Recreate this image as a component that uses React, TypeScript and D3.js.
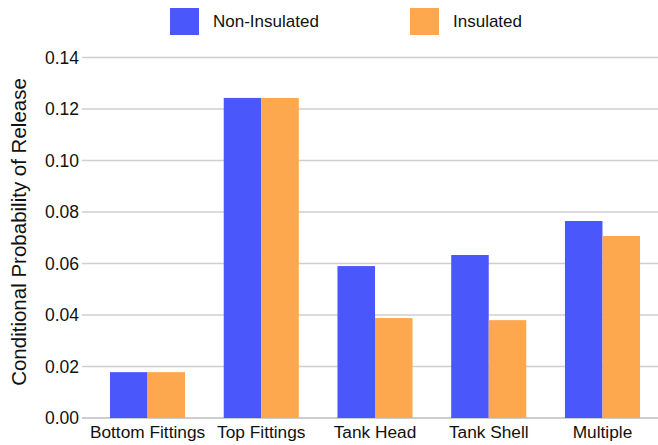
import React from "react";
import * as d3 from "d3";

const categories = ["Bottom Fittings", "Top Fittings", "Tank Head", "Tank Shell", "Multiple"];
const seriesNames = ["Non-Insulated", "Insulated"];
const nonInsulated = [0.0178, 0.1243, 0.059, 0.0633, 0.0765];
const insulated = [0.0178, 0.1243, 0.0388, 0.038, 0.0707];
const yTicks = [0, 0.02, 0.04, 0.06, 0.08, 0.1, 0.12, 0.14];
const colors = ["#4a58fb", "#fda74f"];

export default function App() {
  const W = 658, H = 445;
  const y = d3.scaleLinear().domain([0, 0.14]).range([418, 57.5]);
  const x0 = d3.scaleBand<string>().domain(categories).range([82, 668]).paddingInner(0.34).paddingOuter(0.246);
  const x1 = d3.scaleBand<string>().domain(seriesNames).range([0, x0.bandwidth()]);
  const data = [nonInsulated, insulated];
  const font = "Liberation Sans, Arial, Helvetica, sans-serif";
  return (
    <svg width={W} height={H} style={{ position: "absolute", left: 0, top: 0, background: "#fff" }} fontFamily={font}>
      {yTicks.map((t) => (
        <g key={t}>
          <line x1={82} x2={658} y1={y(t)} y2={y(t)} stroke={t === 0 ? "#bdbdbd" : "#cfcfcf"} strokeWidth={1.5} />
          <text x={79} y={y(t)} dy="0.35em" textAnchor="end" fontSize={17.5} fill="#111">
            {d3.format(".2f")(t)}
          </text>
        </g>
      ))}
      {categories.map((c, i) => (
        <g key={c} transform={`translate(${x0(c)},0)`}>
          {seriesNames.map((s, j) => (
            <rect key={s} x={x1(s)} y={y(data[j][i])} width={x1.bandwidth()} height={y(0) - y(data[j][i])} fill={colors[j]} />
          ))}
          <text x={x0.bandwidth() / 2} y={438} textAnchor="middle" fontSize={17.3} fill="#111">{c}</text>
        </g>
      ))}
      <text transform={`translate(26,232) rotate(-90)`} textAnchor="middle" fontSize={20.5} fill="#111">
        Conditional Probability of Release
      </text>
      {seriesNames.map((s, j) => {
        const lx = [170, 410][j];
        return (
          <g key={s}>
            <rect x={lx} y={8} width={29} height={27} fill={colors[j]} />
            <text x={lx + 43} y={27} fontSize={17} fill="#111">{s}</text>
          </g>
        );
      })}
    </svg>
  );
}
